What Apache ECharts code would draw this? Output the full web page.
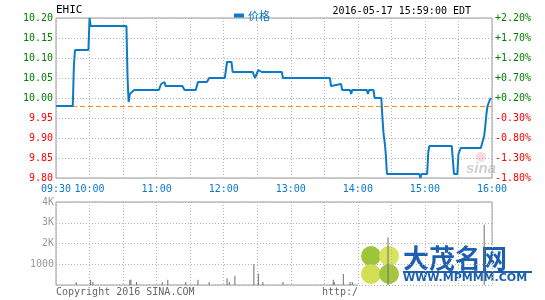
<!DOCTYPE html>
<html>
<head>
<meta charset="utf-8">
<script src="https://cdn.jsdelivr.net/npm/echarts@6/dist/echarts.min.js"></script>
<style>
html,body{margin:0;padding:0;background:#fff;}
#chart{width:545px;height:300px;}
</style>
</head>
<body>
<div id="chart"></div>
<script>
// ---- data ----
const symbol = 'EHIC';
const stampText = '2016-05-17 15:59:00 EDT';
const seriesName = '价格';
const prevClose = 9.98;

const priceTimes = ['09:30','09:45','09:46','09:47','09:59','10:00','10:01','10:33','10:34','10:35','10:36','10:37','10:40',
  '11:02','11:04','11:05','11:07','11:08','11:23','11:25','11:35','11:37','11:45','11:47','12:01','12:03','12:07','12:08',
  '12:26','12:28','12:29','12:31','12:32','12:34','12:52','12:53','13:35','13:36','13:37','13:45','13:46','13:53','13:54',
  '13:55','14:08','14:09','14:10','14:14','14:15','14:21','14:22','14:23','14:24','14:25','14:26','14:55','14:56','14:57',
  '15:02','15:03','15:04','15:24','15:25','15:26','15:29','15:30','15:32','15:40','15:41','15:42','15:50','15:51','15:53',
  '15:54','15:55','15:56','15:58','15:59'];
const priceValues = [9.98,9.98,10.08,10.12,10.12,10.20,10.18,10.18,10.05,9.99,10.01,10.015,10.02,
  10.02,10.035,10.04,10.04,10.03,10.03,10.02,10.02,10.04,10.04,10.05,10.05,10.09,10.09,10.065,
  10.065,10.05,10.05,10.07,10.07,10.065,10.065,10.05,10.05,10.03,10.035,10.035,10.02,10.02,10.01,
  10.02,10.02,10.01,10.02,10.02,10.00,10.00,9.95,9.91,9.89,9.86,9.81,9.81,9.80,9.81,
  9.81,9.865,9.88,9.88,9.845,9.81,9.81,9.86,9.875,9.875,9.88,9.875,9.875,9.88,9.905,
  9.93,9.96,9.98,9.995,10.00];

const volTimes = ['09:48','10:01','10:03','10:36','10:37','10:42','11:05','11:10','11:26','11:37','11:47','12:03','12:05',
  '12:10','12:27','12:31','12:35','12:53','13:38','13:39','13:47','13:53','13:55','14:27','15:53'];
const volValues = [150,250,150,250,250,150,150,250,150,250,150,330,150,
  440,1000,540,150,150,250,150,530,150,150,2300,2900];

const xTickLabels = ['09:30','10:00','','11:00','','12:00','','13:00','','14:00','','15:00','','16:00'];
const priceTickLabels = ['9.80','9.85','9.90','9.95','10.00','10.05','10.10','10.15','10.20'];
const pctTickLabels = ['-1.80%','-1.30%','-0.80%','-0.30%','+0.20%','+0.70%','+1.20%','+1.70%','+2.20%'];
const volTickLabels = ['','1000','2K','3K','4K'];
const copyrightText = 'Copyright 2016 SINA.COM';
const urlText = 'http://finance.sina.com.cn';
const logoTitle = '大茂名网';
const logoUrl = 'WWW.MPMMM.COM';

// ---- helpers ----
function toMin(t){ const p = t.split(':').map(Number); return p[0]*60 + p[1] - 570; }
const priceData = priceTimes.map((t,i)=>[toMin(t), priceValues[i]]);
const volData = volTimes.map((t,i)=>[toMin(t), volValues[i]]);

const MONO = "'DejaVu Sans Mono', 'Liberation Mono', monospace";
const GREEN = '#008000', RED = '#ff0000', BLUE = '#0a78cc', LINE = '#0b7bc6';
const GRIDC = '#b4b4b4', BORDER = '#9a9a9a';

const chart = echarts.init(document.getElementById('chart'), null, {renderer:'canvas'});

const splitLine = {show:true, lineStyle:{color:GRIDC, type:[1,2], width:1}};

const option = {
  animation:false,
  backgroundColor:'#fff',
  legend:{
    data:[{name:seriesName, icon:'rect'}],
    left:229, top:5, itemWidth:10, itemHeight:4, itemGap:5,
    textStyle:{color:BLUE, fontSize:11, fontFamily:"'Noto Sans CJK SC', sans-serif", padding:[0,0,0,-1]}
  },
  grid:[
    {left:56, top:18, width:436, height:160, show:true, borderColor:BORDER, borderWidth:1, backgroundColor:'transparent'},
    {left:56, top:202, width:436, height:83, show:true, borderColor:BORDER, borderWidth:1, backgroundColor:'transparent'}
  ],
  xAxis:[
    {type:'value', gridIndex:0, min:0, max:390, interval:30,
     axisLine:{show:false}, axisTick:{show:false}, splitLine:splitLine,
     axisLabel:{show:true, margin:6, color:BLUE, fontSize:10, fontFamily:MONO,
       formatter:(v)=>xTickLabels[Math.round(v/30)] || ''}},
    {type:'value', gridIndex:1, min:0, max:390, interval:30,
     axisLine:{show:false}, axisTick:{show:false}, splitLine:splitLine, axisLabel:{show:false}}
  ],
  yAxis:[
    {type:'value', gridIndex:0, min:9.80, max:10.20, interval:0.05, position:'left',
     axisLine:{show:false}, axisTick:{show:false}, splitLine:splitLine,
     axisLabel:{margin:3, fontSize:10, fontFamily:MONO,
       formatter:(v)=>{ const i = Math.round((v-9.80)/0.05); const s = priceTickLabels[i]; return (parseFloat(s) >= 10 ? '{g|' : '{r|') + s + '}'; },
       rich:{g:{color:GREEN, fontSize:10, fontFamily:MONO}, r:{color:RED, fontSize:10, fontFamily:MONO}}}},
    {type:'value', gridIndex:0, min:9.80, max:10.20, interval:0.05, position:'right',
     axisLine:{show:false}, axisTick:{show:false}, splitLine:{show:false},
     axisLabel:{margin:3, fontSize:10, fontFamily:MONO,
       formatter:(v)=>{ const i = Math.round((v-9.80)/0.05); const s = pctTickLabels[i]; return (s.charAt(0)==='+' ? '{g|' : '{r|') + s + '}'; },
       rich:{g:{color:GREEN, fontSize:10, fontFamily:MONO}, r:{color:RED, fontSize:10, fontFamily:MONO}}}},
    {type:'value', gridIndex:1, min:0, max:4000, interval:1000, position:'left',
     axisLine:{show:false}, axisTick:{show:false}, splitLine:splitLine,
     axisLabel:{margin:2, color:'#999', fontSize:10, fontFamily:MONO,
       formatter:(v)=>volTickLabels[Math.round(v/1000)] || ''}}
  ],
  series:[
    {name:seriesName, type:'line', xAxisIndex:0, yAxisIndex:0, data:priceData,
     showSymbol:false, symbol:'none', color:LINE, lineStyle:{color:LINE, width:2}, z:5,
     markLine:{silent:true, symbol:'none', label:{show:false}, z:3,
       lineStyle:{color:'#ff8c00', type:[5,3], width:1},
       data:[{yAxis:prevClose}]}},
    {name:'vol', type:'bar', xAxisIndex:1, yAxisIndex:2, data:volData, barWidth:1,
     itemStyle:{color:'#6e6e6e'}}
  ],
  graphic:[
    {type:'text', left:56, top:5, style:{text:symbol, fill:'#000', font:'11px '+MONO}},
    {type:'text', right:74, top:6, style:{text:stampText, fill:'#000', font:'10px '+MONO}},
    // sina watermark inside price chart
    {type:'circle', shape:{cx:481, cy:157, r:5}, style:{fill:'rgba(240,150,160,0.35)'}, z:1},
    {type:'text', x:466, y:161, style:{text:'sina', fill:'rgba(150,150,150,0.45)', font:'italic bold 15px Arial, sans-serif'}, z:1},
    {type:'text', x:56, y:287, style:{text:copyrightText, fill:'#666', font:'10px '+MONO}},
    {type:'text', x:322, y:287, style:{text:urlText, fill:'#666', font:'10px '+MONO}},
    // logo overlay
    {type:'group', x:0, y:0, z:100, children:[
      {type:'rect', shape:{x:358, y:245, width:187, height:55}, style:{fill:'#fff'}},
      {type:'circle', shape:{cx:371, cy:256, r:10}, style:{fill:'#9ec53a'}},
      {type:'circle', shape:{cx:389, cy:256, r:10}, style:{fill:'#d7e35c'}},
      {type:'circle', shape:{cx:371, cy:274, r:10}, style:{fill:'#d2df55'}},
      {type:'circle', shape:{cx:389, cy:274, r:10}, style:{fill:'#a2c63c'}},
      {type:'text', x:403, y:245, style:{text:logoTitle, fill:'#1d5fb0', font:'bold 26px "Noto Sans CJK SC", sans-serif'}},
      {type:'rect', shape:{x:403, y:271, width:129, height:2}, style:{fill:'#1d5fb0'}},
      {type:'text', x:403, y:273, style:{text:logoUrl, fill:'#1d5fb0', font:'bold 11px "DejaVu Sans", sans-serif'}}
    ]}
  ]
};
chart.setOption(option);
</script>
</body>
</html>
